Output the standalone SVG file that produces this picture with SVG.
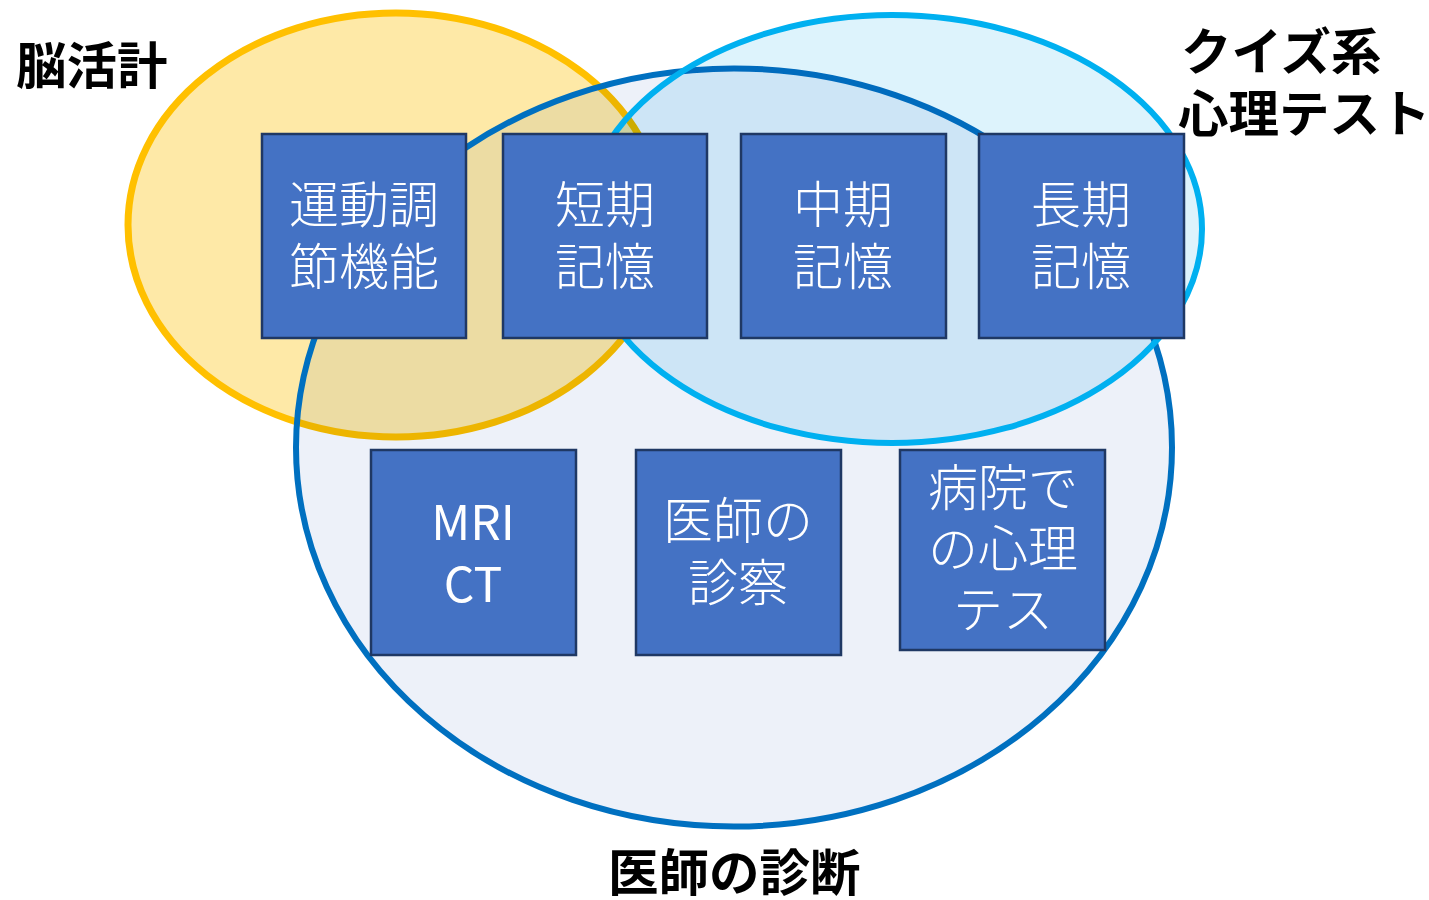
<svg xmlns="http://www.w3.org/2000/svg" width="1429" height="900" viewBox="0 0 1429 900">
<style>
.lbl{font-family:"Noto Sans CJK JP","Noto Sans",sans-serif;font-weight:700;font-size:50.5px;fill:#000}
.box{fill:#4472C4;stroke:#1F3864;stroke-width:2.5}
.bt{font-family:"Noto Sans CJK JP","Noto Sans",sans-serif;font-weight:300;font-size:50px;fill:#fff;text-anchor:middle}
.lat{font-weight:400;font-size:48px}
.mul{mix-blend-mode:multiply}
</style>
<rect width="1429" height="900" fill="#fff"/>
<g id="set-brain">
<ellipse cx="396" cy="225" rx="268" ry="212" fill="#FEE9A7" stroke="#FFC000" stroke-width="7"/>
</g>
<g id="set-doctor">
<ellipse class="mul" cx="734" cy="447.5" rx="438" ry="379" fill="#EDF1F9"/>
<ellipse cx="734" cy="447.5" rx="438" ry="379" fill="none" stroke="#0070C0" stroke-width="6"/>
</g>
<g id="set-quiz">
<ellipse class="mul" cx="892" cy="229" rx="310" ry="214" fill="#DDF3FC"/>
<ellipse cx="892" cy="229" rx="310" ry="214" fill="none" stroke="#00B0F0" stroke-width="6"/>
</g>
<g id="label-brain"><text class="lbl" x="16" y="84">脳活計</text></g>
<g id="label-quiz"><text class="lbl" x="1181" y="70">クイズ系</text><text class="lbl" x="1178" y="132">心理テスト</text></g>
<g id="label-doctor"><text class="lbl" x="608" y="891">医師の診断</text></g>
<g id="node-motor">
<rect class="box" x="262" y="134" width="204" height="204"/>
<text class="bt" x="364" y="223">運動調</text><text class="bt" x="364" y="285">節機能</text>
</g>
<g id="node-short">
<rect class="box" x="503" y="134" width="204" height="204"/>
<text class="bt" x="605" y="223">短期</text><text class="bt" x="605" y="285">記憶</text>
</g>
<g id="node-mid">
<rect class="box" x="741" y="134" width="205" height="204"/>
<text class="bt" x="843" y="223">中期</text><text class="bt" x="843" y="285">記憶</text>
</g>
<g id="node-long">
<rect class="box" x="979" y="134" width="205" height="204"/>
<text class="bt" x="1081" y="223">長期</text><text class="bt" x="1081" y="285">記憶</text>
</g>
<g id="node-mri">
<rect class="box" x="371" y="450" width="205" height="205"/>
<text class="bt lat" x="473" y="540">MRI</text><text class="bt lat" x="473" y="602">CT</text>
</g>
<g id="node-exam">
<rect class="box" x="636" y="450" width="205" height="205"/>
<text class="bt" x="738" y="539">医師の</text><text class="bt" x="738" y="601">診察</text>
</g>
<g id="node-hosp">
<rect class="box" x="900" y="450" width="205" height="200"/>
<text class="bt" x="1003" y="506">病院で</text><text class="bt" x="1003" y="567">の心理</text><text class="bt" x="1003" y="628">テス</text>
</g>
</svg>
